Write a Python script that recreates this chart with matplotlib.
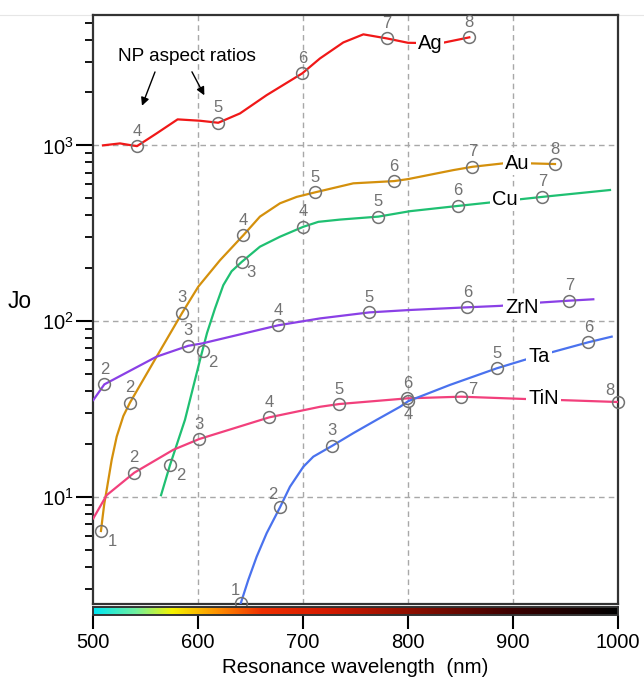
import matplotlib
matplotlib.use('Agg')
import matplotlib.pyplot as plt
import numpy as np
from matplotlib.colors import LinearSegmentedColormap
from matplotlib.ticker import LogLocator, NullFormatter
from matplotlib.lines import Line2D

plt.rcParams['font.family'] = ['Liberation Sans', 'DejaVu Sans']

# curve vertices (wavelength nm, Jo)
ag_x = [509.5, 525.7, 535.2, 541.9, 560.6, 580.6, 601.9, 619.3, 640, 665.4, 699.3, 716.2, 738.4, 757.5, 779.7, 800, 821, 833.3, 858.4]
ag_y = [1000, 1026, 1004, 990, 1170, 1406, 1381, 1345, 1520, 1932, 2570, 3126, 3854, 4285, 4064, 3836, 3820, 3837, 4120]
au_x = [507.6, 509.2, 510.8, 513, 517.8, 522.6, 528.9, 535.2, 560.6, 585, 600.3, 621, 643.2, 659, 678.1, 694, 711.4,
        747.9, 786.7, 800.3, 843.1, 861.3, 890.8, 916.2, 940]
au_y = [6.38, 7.69, 9.16, 10.9, 16.2, 22, 28.8, 34.3, 62.7, 111.5, 157, 222, 308, 393, 468, 509, 540,
        608, 626, 643, 723, 755, 790, 790, 783]
cu_x = [564.8, 573.3, 587.6, 601.9, 608.6, 616.2, 624.1, 632, 641.6, 659, 678.1, 700.3, 714.6, 735.2, 771.7, 801.9, 847.3, 927.9, 992.4]
cu_y = [10.2, 15.1, 27.4, 60, 85.5, 118, 160, 192, 217, 265, 302, 344, 367, 378, 393, 422, 452, 509, 557]
zrn_x = [500.3, 510.8, 560.6, 590.8, 604.1, 676.5, 716.2, 763.2, 801.9, 856.5, 887.6, 927.3, 953.6, 976.5]
zrn_y = [35.5, 43.6, 62.7, 72.3, 74.6, 94.6, 103.5, 112, 115.6, 119.7, 122, 127.6, 130.6, 133]
tin_x = [500.3, 513, 539.3, 576.5, 601.2, 667.9, 716.2, 734.6, 799.3, 850.5, 911.4, 944.8, 1000]
tin_y = [7.53, 10.2, 13.7, 18.5, 21.3, 28.3, 32.5, 33.7, 36.3, 37.1, 36, 35.5, 34.6]
ta_x = [640.7, 647.9, 655.9, 665.4, 678.1, 687.6, 700.3, 709.8, 727.9, 747.9, 770.2, 792.4, 800.3, 840, 884.5, 910.5, 938.4, 971.7, 994]
ta_y = [2.47, 3.36, 4.56, 6.2, 8.7, 11.4, 14.8, 16.9, 19.5, 23, 27.4, 32.5, 35, 43.3, 53.8, 60, 66.8, 75.7, 81.5]

# marked aspect ratios
ag_px = [541.9, 619.3, 699.3, 779.7, 858.4]
ag_py = [990, 1345, 2570, 4064, 4120]
ag_ar = [4, 5, 6, 7, 8]
au_px = [507.6, 535.2, 585, 643.2, 711.4, 786.7, 861.3, 940]
au_py = [6.38, 34.3, 111.5, 308, 540, 626, 755, 783]
au_ar = [1, 2, 3, 4, 5, 6, 7, 8]
cu_px = [573.3, 604.5, 641.6, 700.3, 771.7, 847.3, 927.9]
cu_py = [15.1, 67.5, 217, 344, 393, 452, 509]
cu_ar = [2, 2, 3, 4, 5, 6, 7]
zrn_px = [510.8, 590.8, 676.5, 763.2, 856.5, 953.6]
zrn_py = [43.6, 72.3, 94.6, 112, 119.7, 130.6]
zrn_ar = [2, 3, 4, 5, 6, 7]
tin_px = [539.3, 601.2, 667.9, 734.6, 799.3, 850.5, 1000]
tin_py = [13.7, 21.3, 28.3, 33.7, 36.3, 37.1, 34.6]
tin_ar = [2, 3, 4, 5, 6, 7, 8]
ta_px = [640.7, 678.1, 727.9, 800.3, 884.5, 971.7]
ta_py = [2.47, 8.7, 19.5, 35, 53.8, 75.7]
ta_ar = [1, 2, 3, 4, 5, 6]

materials = ['Ag', 'Au', 'Cu', 'ZrN', 'TiN', 'Ta']
name_x = [821, 903.8, 892.4, 908.3, 929, 924.8]
name_y = [3820, 790, 489, 119.7, 36, 62.7]

series = {
    'Ag': (ag_x, ag_y, ag_px, ag_py, ag_ar, '#f01818'),
    'Au': (au_x, au_y, au_px, au_py, au_ar, '#d4900c'),
    'Cu': (cu_x, cu_y, cu_px, cu_py, cu_ar, '#1fc072'),
    'ZrN': (zrn_x, zrn_y, zrn_px, zrn_py, zrn_ar, '#8a40e6'),
    'TiN': (tin_x, tin_y, tin_px, tin_py, tin_ar, '#f2407c'),
    'Ta': (ta_x, ta_y, ta_px, ta_py, ta_ar, '#4a72ee'),
}

# where the ratio numbers sit relative to their circle (points)
label_off = {
    ('Au', 0): (8.4, -7.7),
    ('Cu', 0): (7.9, -7.2),
    ('Cu', 1): (7.6, -8.4),
    ('Cu', 2): (6.5, -7.9),
    ('Ta', 0): (-4.1, 9.6),
    ('Ta', 1): (-5.3, 9.6),
    ('Ta', 3): (0, -9.6),
    ('TiN', 5): (8.4, 5.3),
    ('TiN', 6): (-5.8, 8.6),
}

gray = '#727272'

fig = plt.figure(figsize=(6.44, 6.77), dpi=100)
ax = fig.add_axes([0.1444, 0.1078, 0.8152, 0.870])

for m in materials:
    lx, ly, px, py, ar, c = series[m]
    ax.plot(lx, ly, color=c, lw=1.6, zorder=3)
    ax.plot(px, py, 'o', ms=8.5, mfc='none', mec=gray, mew=1.1, zorder=5, clip_on=False)
    for i in range(len(px)):
        dx, dy = label_off.get((m, i), (0, 10.8))
        ax.annotate(str(ar[i]), (px[i], py[i]), xytext=(dx, dy), textcoords='offset points',
                    ha='center', va='center', fontsize=12, color=gray, zorder=6,
                    annotation_clip=False)

for m, x, y in zip(materials, name_x, name_y):
    ax.text(x, y, m, ha='center', va='center', fontsize=14.5, color='k', zorder=4,
            bbox=dict(boxstyle='square,pad=0.1', fc='white', ec='none'))

ax.text(589.2, 3192, 'NP aspect ratios', ha='center', va='center', fontsize=13.7)
ax.annotate('', xy=(545.7, 1624), xytext=(560, 2708),
            arrowprops=dict(arrowstyle='-|>', color='k', lw=1, mutation_scale=12))
ax.annotate('', xy=(607.3, 1866), xytext=(593, 2708),
            arrowprops=dict(arrowstyle='-|>', color='k', lw=1, mutation_scale=12))

ax.set_yscale('log')
ax.set_xlim(500, 1000)
ax.set_ylim(2.45, 5520)
ax.yaxis.set_major_locator(LogLocator(base=10))
ax.yaxis.set_minor_locator(LogLocator(base=10, subs=np.arange(2, 10)))
ax.yaxis.set_minor_formatter(NullFormatter())
ax.set_xticks([600, 700, 800, 900])
ax.tick_params(axis='x', length=0, labelbottom=False)
ax.tick_params(axis='y', which='major', length=12, width=1.5, labelsize=14.5, pad=2)
ax.tick_params(axis='y', which='minor', length=6, width=1.3)
ax.grid(True, which='major', color='#a8a8a8', lw=1, linestyle=(0, (4, 3)))
for s in ax.spines.values():
    s.set_linewidth(1.6)
    s.set_color('#333333')
ax.set_ylabel('Jo', rotation=0, fontsize=16.5, va='center', ha='center')
ax.yaxis.set_label_coords(-0.139, 0.513)

# wavelength colour strip under the axis
cmap = LinearSegmentedColormap.from_list('spec', [
    (0.0, '#00e6f2'), (0.08, '#70f0a0'), (0.15, '#f6f400'), (0.24, '#ff8c00'),
    (0.32, '#f03000'), (0.45, '#d41a00'), (0.6, '#901000'), (0.8, '#3c0000'), (1.0, '#000000')])
cax = fig.add_axes([0.1444, 0.0916, 0.8152, 0.0123])
cax.imshow(np.linspace(0, 1, 256)[None, :], aspect='auto', cmap=cmap, extent=[500, 1000, 0, 1])
cax.set_xlim(500, 1000)
cax.set_yticks([])
cax.set_xticks([500, 600, 700, 800, 900, 1000])
cax.tick_params(axis='x', length=10, width=1.5, labelsize=14.5, pad=3)
for s in cax.spines.values():
    s.set_linewidth(1.4)
    s.set_color('#333333')
cax.set_xlabel('Resonance wavelength  (nm)', fontsize=14.8, labelpad=4)

fig.add_artist(Line2D([0, 1], [0.978, 0.978], color='#e6e6e6', lw=0.8, zorder=0))

fig.savefig('out.png', dpi=100)
